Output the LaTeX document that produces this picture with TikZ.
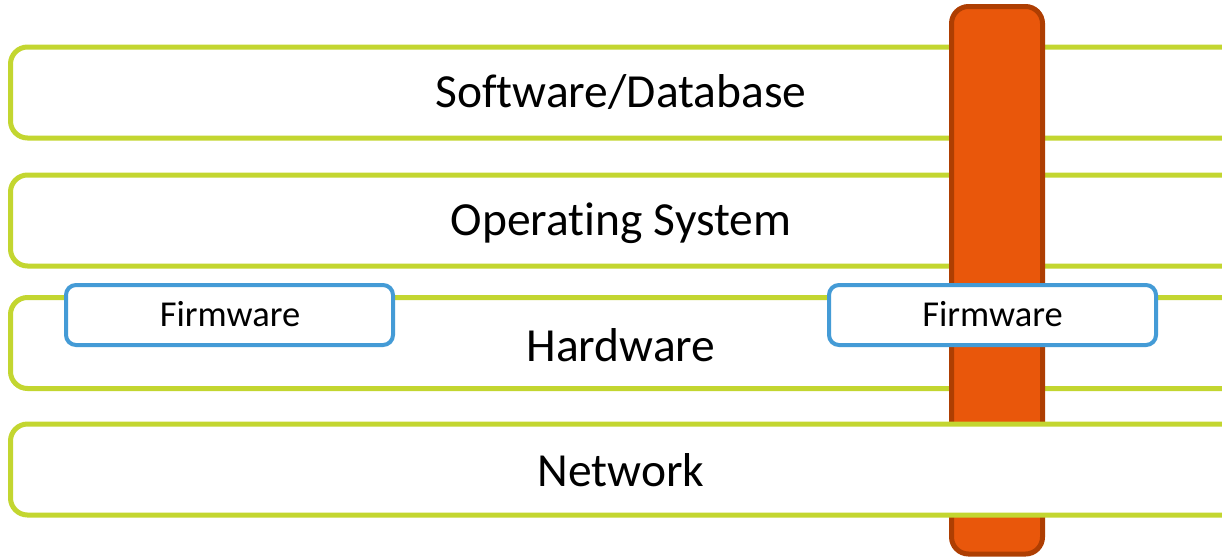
\documentclass[tikz,border=0pt]{standalone}
\usepackage{fontspec}
\setmainfont{Carlito}[Ligatures={NoCommon,NoRequired}]
\definecolor{layergreen}{RGB}{195,214,48}
\definecolor{barfill}{RGB}{233,87,11}
\definecolor{barline}{RGB}{174,62,2}
\definecolor{fwblue}{RGB}{68,155,214}
\tikzset{
  layerbox/.style={draw=layergreen, line width=5pt, fill=white, rounded corners=17pt, inner sep=0pt},
  barbox/.style={draw=barline, fill=barfill, line width=5pt, rounded corners=17pt, inner sep=0pt},
  fwbox/.style={draw=fwblue, fill=white, line width=4pt, rounded corners=10pt, inner sep=0pt},
  bigtext/.style={font=\fontsize{47.5}{57}\selectfont, anchor=base, inner sep=0pt},
  fwtext/.style={font=\fontsize{36.5}{44}\selectfont, anchor=base, inner sep=0pt}
}
\begin{document}
\begin{tikzpicture}[x=1pt,y=-1pt]
\useasboundingbox (0,0) rectangle (1222,558);
\clip (0,0) rectangle (1222,558);
% layers
\node[layerbox, minimum width=1229.5pt, minimum height=91pt] (sw) at (625.25,92.5) {};
\node[layerbox, minimum width=1229.5pt, minimum height=91pt] (os) at (625.25,220.5) {};
\node[layerbox, minimum width=1229.5pt, minimum height=91pt] (hw) at (625.25,343) {};
% vertical bar
\node[barbox, minimum width=91pt, minimum height=547.5pt] (bar) at (997,280.25) {};
% network layer over the bar
\node[layerbox, minimum width=1229.5pt, minimum height=91pt] (nw) at (625.25,469.5) {};
% firmware boxes
\node[fwbox, minimum width=327pt, minimum height=60pt] (fw1) at (229.5,315) {};
\node[fwbox, minimum width=327pt, minimum height=60pt] (fw2) at (992.5,315) {};
% texts
\node[bigtext] (swt) at (621,107) {Software/Database};
\node[bigtext] (ost) at (621,235) {Operat\kern0pt ing System};
\node[bigtext] (hwt) at (621,361) {Hardware};
\node[bigtext] (nwt) at (621,486) {Network};
\node[fwtext] (fw1t) at (230,326) {Firmware};
\node[fwtext] (fw2t) at (992.5,326) {Firmware};
\end{tikzpicture}
\end{document}
